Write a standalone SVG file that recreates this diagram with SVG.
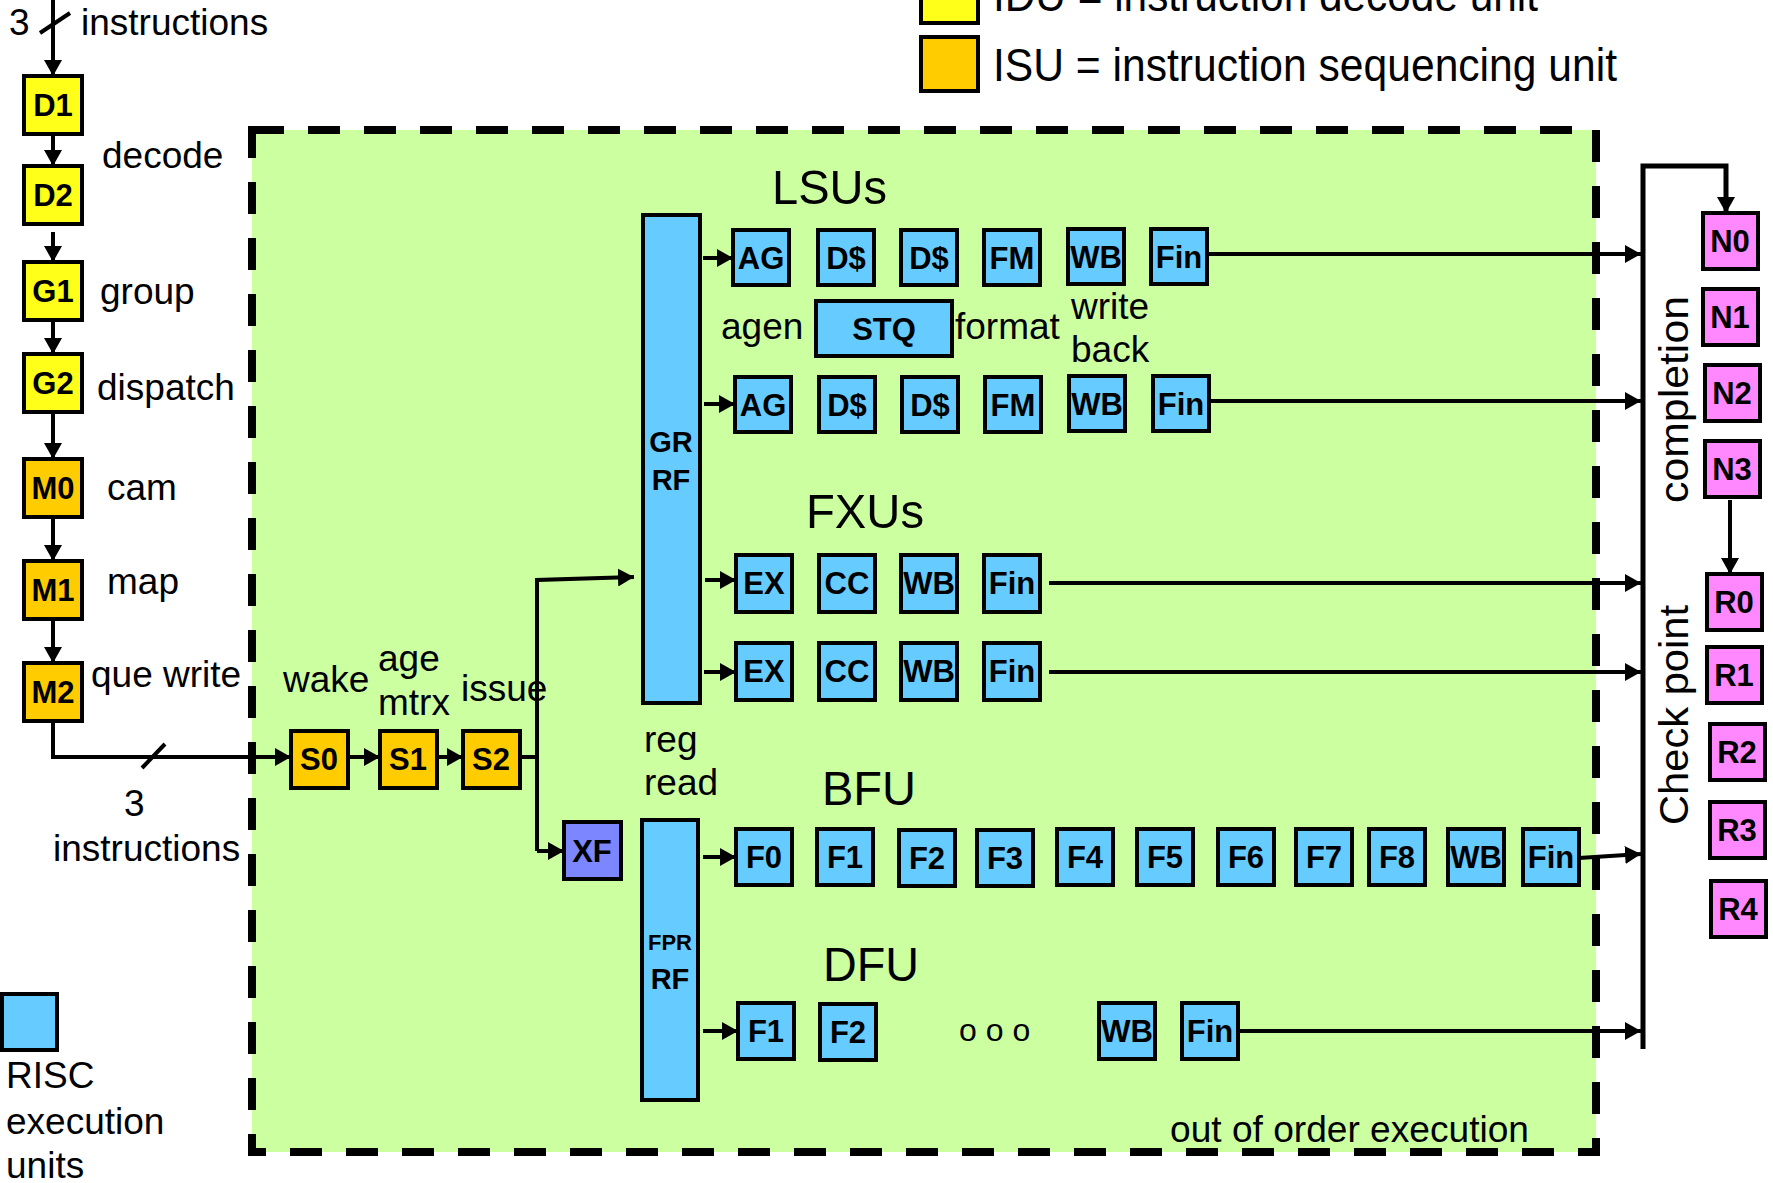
<svg xmlns="http://www.w3.org/2000/svg" width="1773" height="1183" viewBox="0 0 1773 1183">
<defs>
<style>
.b{stroke:#000;stroke-width:4}
.yl{fill:#FFFF1A}.or{fill:#FFCC00}.bl{fill:#66CCFF}.pk{fill:#FF88FF}.xf{fill:#7B86FF}
.t{font-family:"Liberation Sans",Arial,sans-serif;font-weight:bold;font-size:31px;text-anchor:middle;fill:#000}
.l{font-family:"Liberation Sans",Arial,sans-serif;font-size:37px;fill:#000}
.h{font-family:"Liberation Sans",Arial,sans-serif;font-size:49px;fill:#000}
.c{fill:none;stroke:#000;stroke-width:4}
</style>
<marker id="ah" viewBox="0 0 16 18" refX="16" refY="9" markerWidth="16" markerHeight="18" markerUnits="userSpaceOnUse" orient="auto"><path d="M0,0 L16,9 L0,18 z" fill="#000"/></marker>
</defs>
<rect width="1773" height="1183" fill="#fff"/>
<g id="ooo-region">
<rect x="252" y="130" width="1344" height="1022" fill="#CCFFA0"/>
<rect x="252" y="130" width="1344" height="1022" fill="none" stroke="#000" stroke-width="8" stroke-dasharray="32 24"/>
<text class="l" x="1170" y="1142" textLength="359" lengthAdjust="spacingAndGlyphs">out of order execution</text>
</g>
<g id="legend">
<rect class="b yl" x="921" y="-31" width="57" height="54"/>
<text class="l" x="993" y="11" style="font-size:46px" textLength="545" lengthAdjust="spacingAndGlyphs">IDU = instruction decode unit</text>
<rect class="b or" x="921" y="37" width="57" height="54"/>
<text class="l" x="993" y="81" style="font-size:46px" textLength="624" lengthAdjust="spacingAndGlyphs">ISU = instruction sequencing unit</text>
<rect class="b bl" x="2" y="994" width="55" height="56"/>
<text class="l" x="6" y="1088">RISC</text>
<text class="l" x="6" y="1134">execution</text>
<text class="l" x="6" y="1178">units</text>
</g>
<g id="labels">
<text class="l" x="9" y="35">3</text>
<text class="l" x="81" y="35">instructions</text>
<text class="l" x="102" y="168">decode</text>
<text class="l" x="100" y="304">group</text>
<text class="l" x="97" y="400">dispatch</text>
<text class="l" x="107" y="500">cam</text>
<text class="l" x="107" y="594">map</text>
<text class="l" x="91" y="687">que write</text>
<text class="l" x="124" y="816">3</text>
<text class="l" x="53" y="861">instructions</text>
<text class="l" x="283" y="692">wake</text>
<text class="l" x="378" y="671">age</text>
<text class="l" x="378" y="715">mtrx</text>
<text class="l" x="461" y="701">issue</text>
<text class="l" x="644" y="752">reg</text>
<text class="l" x="644" y="795">read</text>
<text class="h" x="772" y="204" textLength="115" lengthAdjust="spacingAndGlyphs">LSUs</text>
<text class="h" x="806" y="528" textLength="118" lengthAdjust="spacingAndGlyphs">FXUs</text>
<text class="h" x="822" y="805" textLength="94" lengthAdjust="spacingAndGlyphs">BFU</text>
<text class="h" x="823" y="981" textLength="96" lengthAdjust="spacingAndGlyphs">DFU</text>
<text class="l" x="721" y="339">agen</text>
<text class="l" x="955" y="339">format</text>
<text class="l" x="1071" y="319">write</text>
<text class="l" x="1071" y="362">back</text>
<text class="l" x="959" y="1041" style="font-size:32px">o o o</text>
<text class="l" transform="translate(1688,503) rotate(-90)" style="font-size:41px" textLength="207" lengthAdjust="spacingAndGlyphs">completion</text>
<text class="l" transform="translate(1688,825) rotate(-90)" style="font-size:41px" textLength="220" lengthAdjust="spacingAndGlyphs">Check point</text>
</g>
<g id="D1"><rect class="b yl" x="24" y="76" width="58" height="58"/><text class="t" x="53" y="116">D1</text></g>
<g id="D2"><rect class="b yl" x="24" y="166" width="58" height="58"/><text class="t" x="53" y="206">D2</text></g>
<g id="G1"><rect class="b yl" x="24" y="262" width="58" height="58"/><text class="t" x="53" y="302">G1</text></g>
<g id="G2"><rect class="b yl" x="24" y="354" width="58" height="58"/><text class="t" x="53" y="394">G2</text></g>
<g id="M0"><rect class="b or" x="24" y="459" width="58" height="58"/><text class="t" x="53" y="499">M0</text></g>
<g id="M1"><rect class="b or" x="24" y="561" width="58" height="58"/><text class="t" x="53" y="601">M1</text></g>
<g id="M2"><rect class="b or" x="24" y="663" width="58" height="58"/><text class="t" x="53" y="703">M2</text></g>
<g id="S0"><rect class="b or" x="291" y="731" width="57" height="57"/><text class="t" x="319" y="770">S0</text></g>
<g id="S1"><rect class="b or" x="380" y="731" width="57" height="57"/><text class="t" x="408" y="770">S1</text></g>
<g id="S2"><rect class="b or" x="463" y="731" width="57" height="57"/><text class="t" x="491" y="770">S2</text></g>
<g id="XF"><rect class="b xf" x="564" y="822" width="57" height="57"/><text class="t" x="592" y="862">XF</text></g>
<g id="GRRF"><rect class="b bl" x="643" y="215" width="57" height="488"/><text class="t" x="671" y="452" style="font-size:29px">GR</text><text class="t" x="671" y="490" style="font-size:29px">RF</text></g>
<g id="FPRRF"><rect class="b bl" x="642" y="820" width="56" height="280"/><text class="t" x="670" y="950" style="font-size:22px">FPR</text><text class="t" x="670" y="989" style="font-size:29px">RF</text></g>
<g id="LSU1">
<g id="LSU1-AG"><rect class="b bl" x="733" y="230" width="56" height="55"/><text class="t" x="761" y="269">AG</text></g>
<g id="LSU1-D1"><rect class="b bl" x="818" y="230" width="56" height="55"/><text class="t" x="846" y="269">D$</text></g>
<g id="LSU1-D2"><rect class="b bl" x="901" y="230" width="56" height="55"/><text class="t" x="929" y="269">D$</text></g>
<g id="LSU1-FM"><rect class="b bl" x="984" y="230" width="56" height="55"/><text class="t" x="1012" y="269">FM</text></g>
<g id="LSU1-WB"><rect class="b bl" x="1068" y="229" width="56" height="55"/><text class="t" x="1096" y="268">WB</text></g>
<g id="LSU1-Fin"><rect class="b bl" x="1151" y="229" width="56" height="55"/><text class="t" x="1179" y="268">Fin</text></g>
</g>
<g id="STQ"><rect class="b bl" x="816" y="301" width="136" height="55"/><text class="t" x="884" y="340">STQ</text></g>
<g id="LSU2">
<g id="LSU2-AG"><rect class="b bl" x="735" y="377" width="56" height="55"/><text class="t" x="763" y="416">AG</text></g>
<g id="LSU2-D1"><rect class="b bl" x="819" y="377" width="56" height="55"/><text class="t" x="847" y="416">D$</text></g>
<g id="LSU2-D2"><rect class="b bl" x="902" y="377" width="56" height="55"/><text class="t" x="930" y="416">D$</text></g>
<g id="LSU2-FM"><rect class="b bl" x="985" y="377" width="56" height="55"/><text class="t" x="1013" y="416">FM</text></g>
<g id="LSU2-WB"><rect class="b bl" x="1069" y="376" width="56" height="55"/><text class="t" x="1097" y="415">WB</text></g>
<g id="LSU2-Fin"><rect class="b bl" x="1153" y="376" width="56" height="55"/><text class="t" x="1181" y="415">Fin</text></g>
</g>
<g id="FXU1">
<g id="FXU1-EX"><rect class="b bl" x="736" y="555" width="56" height="57"/><text class="t" x="764" y="594">EX</text></g>
<g id="FXU1-CC"><rect class="b bl" x="819" y="555" width="56" height="57"/><text class="t" x="847" y="594">CC</text></g>
<g id="FXU1-WB"><rect class="b bl" x="901" y="555" width="56" height="57"/><text class="t" x="929" y="594">WB</text></g>
<g id="FXU1-Fin"><rect class="b bl" x="984" y="555" width="56" height="57"/><text class="t" x="1012" y="594">Fin</text></g>
</g>
<g id="FXU2">
<g id="FXU2-EX"><rect class="b bl" x="736" y="643" width="56" height="57"/><text class="t" x="764" y="682">EX</text></g>
<g id="FXU2-CC"><rect class="b bl" x="819" y="643" width="56" height="57"/><text class="t" x="847" y="682">CC</text></g>
<g id="FXU2-WB"><rect class="b bl" x="901" y="643" width="56" height="57"/><text class="t" x="929" y="682">WB</text></g>
<g id="FXU2-Fin"><rect class="b bl" x="984" y="643" width="56" height="57"/><text class="t" x="1012" y="682">Fin</text></g>
</g>
<g id="BFU">
<g id="BFU-F0"><rect class="b bl" x="736" y="829" width="56" height="56"/><text class="t" x="764" y="868">F0</text></g>
<g id="BFU-F1"><rect class="b bl" x="817" y="829" width="56" height="56"/><text class="t" x="845" y="868">F1</text></g>
<g id="BFU-F2"><rect class="b bl" x="899" y="830" width="56" height="56"/><text class="t" x="927" y="869">F2</text></g>
<g id="BFU-F3"><rect class="b bl" x="977" y="830" width="56" height="56"/><text class="t" x="1005" y="869">F3</text></g>
<g id="BFU-F4"><rect class="b bl" x="1057" y="829" width="56" height="56"/><text class="t" x="1085" y="868">F4</text></g>
<g id="BFU-F5"><rect class="b bl" x="1137" y="829" width="56" height="56"/><text class="t" x="1165" y="868">F5</text></g>
<g id="BFU-F6"><rect class="b bl" x="1218" y="829" width="56" height="56"/><text class="t" x="1246" y="868">F6</text></g>
<g id="BFU-F7"><rect class="b bl" x="1296" y="829" width="56" height="56"/><text class="t" x="1324" y="868">F7</text></g>
<g id="BFU-F8"><rect class="b bl" x="1369" y="829" width="56" height="56"/><text class="t" x="1397" y="868">F8</text></g>
<g id="BFU-WB"><rect class="b bl" x="1448" y="829" width="56" height="56"/><text class="t" x="1476" y="868">WB</text></g>
<g id="BFU-Fin"><rect class="b bl" x="1523" y="829" width="56" height="56"/><text class="t" x="1551" y="868">Fin</text></g>
</g>
<g id="DFU">
<g id="DFU-F1"><rect class="b bl" x="738" y="1003" width="56" height="56"/><text class="t" x="766" y="1042">F1</text></g>
<g id="DFU-F2"><rect class="b bl" x="820" y="1004" width="56" height="56"/><text class="t" x="848" y="1043">F2</text></g>
<g id="DFU-WB"><rect class="b bl" x="1099" y="1003" width="56" height="56"/><text class="t" x="1127" y="1042">WB</text></g>
<g id="DFU-Fin"><rect class="b bl" x="1182" y="1003" width="56" height="56"/><text class="t" x="1210" y="1042">Fin</text></g>
</g>
<g id="N0"><rect class="b pk" x="1703" y="213" width="55" height="56"/><text class="t" x="1730" y="252">N0</text></g>
<g id="N1"><rect class="b pk" x="1703" y="289" width="55" height="56"/><text class="t" x="1730" y="328">N1</text></g>
<g id="N2"><rect class="b pk" x="1705" y="365" width="55" height="56"/><text class="t" x="1732" y="404">N2</text></g>
<g id="N3"><rect class="b pk" x="1705" y="441" width="55" height="56"/><text class="t" x="1732" y="480">N3</text></g>
<g id="R0"><rect class="b pk" x="1707" y="574" width="55" height="56"/><text class="t" x="1734" y="613">R0</text></g>
<g id="R1"><rect class="b pk" x="1707" y="647" width="55" height="56"/><text class="t" x="1734" y="686">R1</text></g>
<g id="R2"><rect class="b pk" x="1710" y="724" width="55" height="56"/><text class="t" x="1737" y="763">R2</text></g>
<g id="R3"><rect class="b pk" x="1710" y="802" width="55" height="56"/><text class="t" x="1737" y="841">R3</text></g>
<g id="R4"><rect class="b pk" x="1711" y="881" width="55" height="56"/><text class="t" x="1738" y="920">R4</text></g>
<g id="connectors">
<path class="c" d="M53,0 V76" marker-end="url(#ah)"/>
<path class="c" d="M40,33 L70,13"/>
<path class="c" d="M53,134 V166" marker-end="url(#ah)"/>
<path class="c" d="M53,232 V262" marker-end="url(#ah)"/>
<path class="c" d="M53,320 V354" marker-end="url(#ah)"/>
<path class="c" d="M53,412 V459" marker-end="url(#ah)"/>
<path class="c" d="M53,517 V561" marker-end="url(#ah)"/>
<path class="c" d="M53,619 V663" marker-end="url(#ah)"/>
<path class="c" d="M53,721 V757 H291" marker-end="url(#ah)"/>
<path class="c" d="M142,768 L165,744"/>
<path class="c" d="M348,757 H380" marker-end="url(#ah)"/>
<path class="c" d="M437,757 H463" marker-end="url(#ah)"/>
<path class="c" d="M520,757 H537"/>
<path class="c" d="M537,851 V580 L634,577" marker-end="url(#ah)"/>
<path class="c" d="M537,851 H564" marker-end="url(#ah)"/>
<path class="c" d="M703,258 H733" marker-end="url(#ah)"/>
<path class="c" d="M704,404 H735" marker-end="url(#ah)"/>
<path class="c" d="M705,580 H736" marker-end="url(#ah)"/>
<path class="c" d="M704,672 H736" marker-end="url(#ah)"/>
<path class="c" d="M703,857 H736" marker-end="url(#ah)"/>
<path class="c" d="M703,1031 H738" marker-end="url(#ah)"/>
<path class="c" d="M1207,254 H1641" marker-end="url(#ah)"/>
<path class="c" d="M1209,401 H1641" marker-end="url(#ah)"/>
<path class="c" d="M1049,583 H1641" marker-end="url(#ah)"/>
<path class="c" d="M1049,672 H1641" marker-end="url(#ah)"/>
<path class="c" d="M1579,858 L1641,854" marker-end="url(#ah)"/>
<path class="c" d="M1238,1031 H1641" marker-end="url(#ah)"/>
<path d="M1643,1049 V166 H1726 V213" fill="none" stroke="#000" stroke-width="5" marker-end="url(#ah)"/>
<path class="c" d="M1730,500 V574" marker-end="url(#ah)"/>
</g>
</svg>
